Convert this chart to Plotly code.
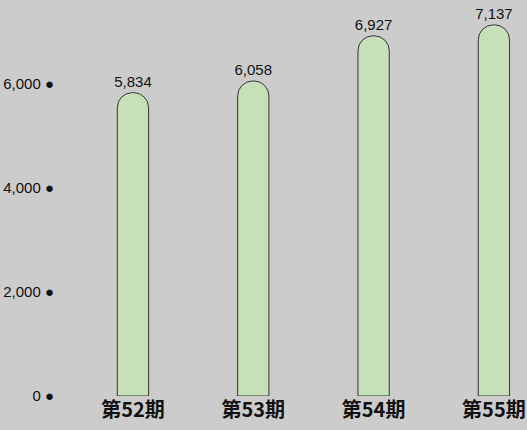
import plotly.graph_objects as go

categories = ["第52期", "第53期", "第54期", "第55期"]
values = [5834, 6058, 6927, 7137]
tick_vals = [0, 2000, 4000, 6000]
tick_text = ["0", "2,000", "4,000", "6,000"]

fig = go.Figure()
fig.add_trace(go.Bar(
    x=categories, y=values,
    width=0.26,
    marker=dict(color="#c6e0b8", line=dict(color="#333333", width=1)),
    text=[f"{v:,}" for v in values],
    textposition="outside",
    constraintext="none",
    textfont=dict(family="Liberation Sans, Arial", size=15, color="#111111"),
    cliponaxis=False,
))
fig.update_layout(
    width=527, height=430,
    margin=dict(l=55, r=0, t=0, b=34),
    paper_bgcolor="#cccccc", plot_bgcolor="#cccccc",
    barcornerradius=15,
    showlegend=False,
    xaxis=dict(range=[-0.648, 3.275], showgrid=False, zeroline=False, showline=False,
               automargin=False, ticks="",
               tickfont=dict(family="Noto Sans CJK JP", size=20, color="#111111"),
               tickvals=categories, ticktext=[f"<b>{c}</b>" for c in categories]),
    yaxis=dict(range=[0, 7615], showgrid=False, zeroline=False, showline=False,
               automargin=False,
               tickvals=tick_vals, ticktext=[t + " ●" for t in tick_text], ticks="",
               tickfont=dict(family="Liberation Sans, Arial", size=15, color="#111111")),
)
fig.write_html("out.html", config={"displayModeBar": False},
               post_script="document.body.style.margin='0';document.body.style.background='#cccccc';")
